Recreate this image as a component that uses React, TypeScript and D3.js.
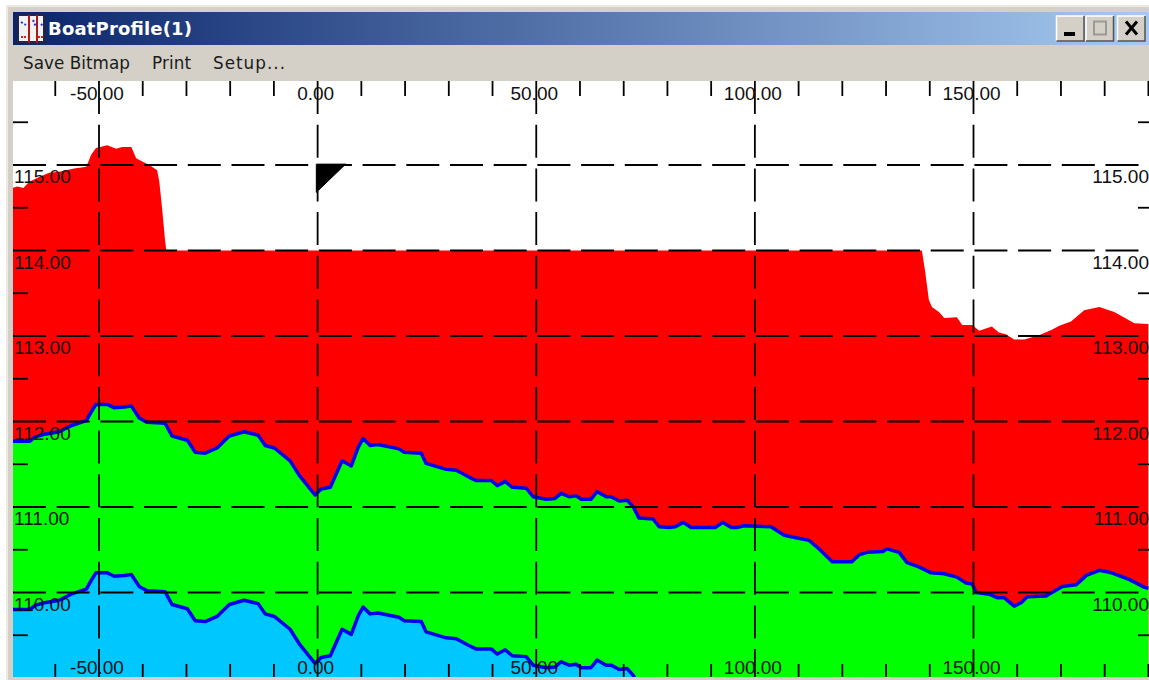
import React from "react";
import * as d3 from "d3";

const WIDTH = 1149;
const HEIGHT = 680;

const deckStations = [-69.9,-68.7,-67.3,-66.0,-63.7,-61.4,-59.1,-55.7,-52.9,-51.8,-50.7,-48.1,-46.1,-44.7,-42.6,-41.5,-40.1,-38.5,-36.7,-36.2,-35.6,-34.9,-34.6,138.2,138.9,139.8,140.5,142.1,143.3,146.2,147.4,149.7,151.3,154.2,155.8,157.4,159.3,161.6,165.0,167.8,169.6,172.3,175.3,178.8,182.2,186.8,190.0];
const deckLevels = [114.73,114.75,114.73,114.80,114.86,114.91,114.92,114.96,114.98,115.12,115.20,115.23,115.19,115.21,115.21,115.08,115.04,115.00,114.94,114.80,114.51,114.12,114.00,114.00,113.77,113.42,113.34,113.28,113.21,113.22,113.13,113.13,113.06,113.11,113.04,113.02,112.96,112.96,113.01,113.07,113.12,113.17,113.30,113.34,113.28,113.15,113.14];

const surfaceStations = [-69.9,-65.8,-64.6,-62.5,-59.1,-56.4,-52.9,-51.8,-50.7,-48.1,-46.5,-44.2,-42.6,-40.8,-39.0,-34.9,-33.3,-29.8,-28.0,-25.7,-23.0,-20.2,-16.8,-13.6,-12.0,-9.9,-6.3,-4.2,-0.6,0.8,2.9,5.6,7.7,9.3,10.4,12.0,13.8,18.6,19.8,23.7,24.8,29.4,31.7,34.6,36.2,39.7,41.1,42.9,44.5,47.7,49.3,52.3,54.3,55.7,57.5,59.1,60.3,62.5,63.9,66.0,67.1,69.0,70.8,72.2,73.5,76.7,78.1,80.4,81.8,83.6,85.4,90.9,92.7,94.6,95.9,97.5,103.7,106.7,109.4,112.4,114.7,117.7,122.2,123.8,125.7,129.3,130.2,133.0,134.8,137.5,140.3,143.3,146.2,148.3,149.7,150.6,153.6,155.4,157.0,159.3,160.9,162.3,166.6,170.3,173.5,175.8,178.8,181.6,185.7,189.1,190.0];
const surfaceLevels = [111.77,111.77,111.82,111.85,111.88,111.95,112.01,112.11,112.20,112.20,112.16,112.17,112.18,112.04,111.99,111.98,111.83,111.78,111.64,111.63,111.69,111.83,111.88,111.84,111.72,111.69,111.54,111.37,111.14,111.21,111.23,111.54,111.48,111.70,111.80,111.72,111.73,111.68,111.64,111.63,111.51,111.44,111.43,111.35,111.31,111.31,111.25,111.30,111.23,111.22,111.12,111.09,111.10,111.16,111.12,111.13,111.09,111.09,111.18,111.12,111.12,111.07,111.08,111.00,110.87,110.86,110.77,110.76,110.77,110.82,110.76,110.76,110.82,110.76,110.76,110.78,110.77,110.67,110.64,110.61,110.51,110.36,110.36,110.44,110.47,110.48,110.51,110.47,110.35,110.30,110.23,110.22,110.18,110.11,110.10,110.00,109.98,109.94,109.94,109.84,109.88,109.95,109.96,110.07,110.09,110.20,110.26,110.23,110.15,110.06,110.05];

const keelStations = [-69.9,-65.8,-64.6,-62.5,-59.1,-56.4,-52.9,-51.8,-50.7,-48.1,-46.5,-44.2,-42.6,-40.8,-39.0,-34.9,-33.3,-29.8,-28.0,-25.7,-23.0,-20.2,-16.8,-13.6,-12.0,-9.9,-6.3,-4.2,-0.6,0.8,2.9,5.6,7.7,9.3,10.4,12.0,13.8,18.6,19.8,23.7,24.8,29.4,31.7,34.6,36.2,39.7,41.1,42.9,44.5,47.7,49.3,52.3,54.3,55.7,57.5,59.1,60.3,62.5,63.9,66.0,67.1,69.0,70.8,72.2,73.5];
const keelLevels = [109.80,109.80,109.85,109.88,109.91,109.98,110.04,110.14,110.23,110.23,110.19,110.20,110.21,110.07,110.02,110.01,109.86,109.81,109.67,109.66,109.72,109.86,109.91,109.87,109.75,109.72,109.57,109.40,109.17,109.24,109.26,109.57,109.51,109.73,109.83,109.75,109.76,109.71,109.67,109.66,109.54,109.47,109.46,109.38,109.34,109.34,109.28,109.33,109.26,109.25,109.15,109.12,109.13,109.19,109.15,109.16,109.12,109.12,109.21,109.15,109.15,109.10,109.11,109.03,108.90];

const markerStations = [-0.3, 6.4, -0.3];
const markerLevels = [115.01, 115.01, 114.68];

const xGrid = [-50, 0, 50, 100, 150];
const xMinor = [-60,-40,-30,-20,-10,10,20,30,40,60,70,80,90,110,120,130,140,160,170,180,190];
const yGrid = [110, 111, 112, 113, 114, 115];
const yMinor = [109.5,110.5,111.5,112.5,113.5,114.5,115.5];
const menuItems = ["Save Bitmap", "Print", "Setup..."];
const menuStarts = [23, 152, 213];
const menuWidths = [107, 39, 72];

const plot = { left: 13, right: 1149, top: 81, bottom: 677 };
const x = d3.scaleLinear().domain([-50, 150]).range([99, 973.5]);
const y = d3.scaleLinear().domain([110, 115]).range([592.5, 165]);

type P = [number, number];
const zip = (a: number[], b: number[]): P[] => a.map((v, i) => [v, b[i]]);
const area = d3.area<P>().x(d => x(d[0])).y0(plot.bottom + 30).y1(d => y(d[1]));
const line = d3.line<P>().x(d => x(d[0])).y(d => y(d[1]));

const deck = zip(deckStations, deckLevels);
const surface = zip(surfaceStations, surfaceLevels);
const keel = zip(keelStations, keelLevels);
const marker = zip(markerStations, markerLevels);

const axisFont = "'Liberation Sans', Arial, sans-serif";
const uiFont = "'DejaVu Sans', Verdana, sans-serif";
const DASH = "33 10.7";
const INK = 1.8;

export default function App() {
  return (
    <svg
      width={WIDTH}
      height={HEIGHT}
      viewBox={`0 0 ${WIDTH} ${HEIGHT}`}
      style={{ position: "fixed", left: 0, top: 0, display: "block" }}
    >
      <defs>
        <linearGradient id="titleGrad" x1="0" x2="1" y1="0" y2="0">
          <stop offset="0" stopColor="#0a246a" />
          <stop offset="1" stopColor="#a6caf0" />
        </linearGradient>
        <clipPath id="plotClip">
          <rect x={plot.left} y={plot.top} width={plot.right - plot.left} height={plot.bottom - plot.top} />
        </clipPath>
      </defs>

      <rect x={0} y={0} width={WIDTH} height={HEIGHT} fill="#ffffff" />
      <rect x={6} y={5} width={WIDTH - 6} height={HEIGHT - 5} fill="#d4d0c8" />
      <rect x={6} y={5} width={WIDTH - 6} height={2} fill="#ece9e2" />
      <rect x={6} y={5} width={2} height={HEIGHT - 5} fill="#ece9e2" />
      <rect x={13} y={12} width={WIDTH - 13} height={33} fill="url(#titleGrad)" />

      <rect x={17} y={14} width={29} height={29} fill="#20264a" />
      <rect x={19} y={16} width={24} height={25} fill="#f2f2f2" />
      <path d="M29 15V43M37 15V43" stroke="#b01818" strokeWidth={2} />
      <path d="M21 22L26 25M33 20L36 27M41 24L43 26" stroke="#2030e0" strokeWidth={2} strokeDasharray="2 2" />
      <path d="M21 37H27M38 37H43" stroke="#e02020" strokeWidth={2} strokeDasharray="2 1" />

      <text x={48} y={35} fontFamily={uiFont} fontWeight="bold" fontSize={18} textLength={144} fill="#ffffff">BoatProfile(1)</text>

      {[1056.5, 1086, 1117.5].map((bx, i) => (
        <g key={i}>
          <rect x={bx} y={16} width={27.5} height={25} fill="#d4d0c8" />
          <path d={`M${bx} 41V16H${bx + 27.5}`} fill="none" stroke="#ffffff" strokeWidth={1.5} />
          <path d={`M${bx} 41H${bx + 27.5}V16`} fill="none" stroke="#55534e" strokeWidth={1.5} />
        </g>
      ))}
      <rect x={1064} y={32} width={11} height={4} fill="#000000" />
      <rect x={1094} y={21.5} width={12} height={13} fill="none" stroke="#9c9a94" strokeWidth={2} />
      <path d="M1126 21.5L1137 34.5M1137 21.5L1126 34.5" stroke="#000000" strokeWidth={3} />

      {menuItems.map((m, i) => (
        <text key={m} x={menuStarts[i]} y={69} fontFamily={uiFont} fontSize={16.8} textLength={menuWidths[i]} fill="#1a1a1a">{m}</text>
      ))}

      <rect x={plot.left} y={plot.top} width={plot.right - plot.left} height={plot.bottom - plot.top} fill="#ffffff" />

      <g clipPath="url(#plotClip)">
        <path d={area(deck) ?? ""} fill="#ff0000" />
        <path d={area(surface) ?? ""} fill="#00ff00" />
        <path d={area(keel) ?? ""} fill="#00c8ff" />
        <path d={line(surface) ?? ""} fill="none" stroke="#0000f0" strokeWidth={3.5} strokeLinejoin="round" />
        <path d={line(keel) ?? ""} fill="none" stroke="#0000f0" strokeWidth={3.5} strokeLinejoin="round" />
        <path d={(line(marker) ?? "") + "Z"} fill="#000000" stroke="#000000" strokeWidth={1} strokeLinejoin="round" />

        {xGrid.map(v => (
          <line key={v} x1={x(v)} x2={x(v)} y1={plot.top} y2={plot.bottom} stroke="#000000" strokeWidth={INK} strokeDasharray={DASH} />
        ))}
        {yGrid.map(v => (
          <line key={v} x1={plot.left} x2={plot.right} y1={y(v)} y2={y(v)} stroke="#000000" strokeWidth={INK} strokeDasharray={DASH} />
        ))}
        {xMinor.map(v => (
          <g key={v}>
            <line x1={x(v)} x2={x(v)} y1={plot.top} y2={plot.top + 15} stroke="#000000" strokeWidth={INK} />
            <line x1={x(v)} x2={x(v)} y1={plot.bottom - 13} y2={plot.bottom} stroke="#000000" strokeWidth={INK} />
          </g>
        ))}
        {yMinor.map(v => (
          <g key={v}>
            <line x1={plot.left} x2={plot.left + 15} y1={y(v)} y2={y(v)} stroke="#000000" strokeWidth={INK} />
            <line x1={plot.right - 11} x2={plot.right} y1={y(v)} y2={y(v)} stroke="#000000" strokeWidth={INK} />
          </g>
        ))}
      </g>

      <g fontFamily={axisFont} fontSize={19} fill="#111111">
        {xGrid.map(v => (
          <g key={v}>
            <text x={x(v) - 2} y={99.5} textAnchor="middle">{v.toFixed(2)}</text>
            <text x={x(v) - 2} y={673.5} textAnchor="middle">{v.toFixed(2)}</text>
          </g>
        ))}
        {yGrid.map(v => (
          <g key={v}>
            <text x={14} y={y(v) + 18} textAnchor="start">{v.toFixed(2)}</text>
            <text x={1149} y={y(v) + 18} textAnchor="end">{v.toFixed(2)}</text>
          </g>
        ))}
      </g>
    </svg>
  );
}
